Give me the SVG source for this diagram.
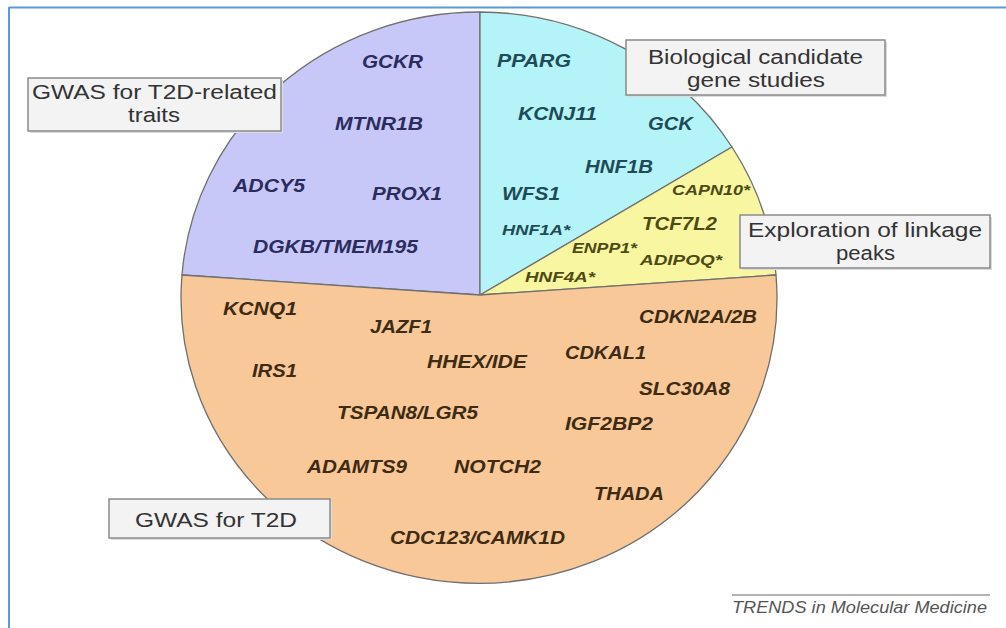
<svg xmlns="http://www.w3.org/2000/svg" width="1006" height="628" viewBox="0 0 1006 628">
<style>
.sector{stroke:#6f6f6f;stroke-width:1.3;stroke-linejoin:round}
.gene{font-family:"Liberation Sans",Arial,sans-serif;font-style:italic;font-weight:bold;font-size:18.5px}
.small{font-size:15px}
.pu{fill:#2b2b5e}
.cy{fill:#1f4a56}
.ye{fill:#4d4a14}
.or{fill:#3d2b14}
.box{fill:#f3f3f3;stroke:#8a8a8a;stroke-width:1.5}
.shadow{fill:#dcdcdc}
.lbl{font-family:"Liberation Sans",Arial,sans-serif;font-size:20px;fill:#333}
.credit{font-family:"Liberation Sans",Arial,sans-serif;font-style:italic;font-size:17px;fill:#555}
</style>
<rect width="1006" height="628" fill="#ffffff"/>
<g id="frame" stroke="#5b9bd5" stroke-width="2" fill="none">
<line x1="9" y1="7.5" x2="1006" y2="7.5"/>
<line x1="9" y1="7" x2="9" y2="628"/>
</g>
<g id="sector-gwas-traits">
<path class="sector" fill="#c8c8f8" d="M480,295 L480,12 A298,285 0 0,0 182,275 Z"/>
<text class="gene pu" x="362" y="68" textLength="61" lengthAdjust="spacingAndGlyphs">GCKR</text>
<text class="gene pu" x="335" y="130" textLength="88" lengthAdjust="spacingAndGlyphs">MTNR1B</text>
<text class="gene pu" x="372" y="200" textLength="70" lengthAdjust="spacingAndGlyphs">PROX1</text>
<text class="gene pu" x="233" y="192" textLength="72" lengthAdjust="spacingAndGlyphs">ADCY5</text>
<text class="gene pu" x="253" y="253" textLength="165" lengthAdjust="spacingAndGlyphs">DGKB/TMEM195</text>
</g>
<g id="sector-candidate">
<path class="sector" fill="#b4f4f8" d="M480,295 L480,12 A298,285 0 0,1 732,147 Z"/>
<text class="gene cy" x="497" y="67" textLength="74" lengthAdjust="spacingAndGlyphs">PPARG</text>
<text class="gene cy" x="518" y="120" textLength="79" lengthAdjust="spacingAndGlyphs">KCNJ11</text>
<text class="gene cy" x="648" y="130" textLength="45" lengthAdjust="spacingAndGlyphs">GCK</text>
<text class="gene cy" x="585" y="173" textLength="68" lengthAdjust="spacingAndGlyphs">HNF1B</text>
<text class="gene cy" x="502" y="200" textLength="58" lengthAdjust="spacingAndGlyphs">WFS1</text>
<text class="gene small cy" x="502" y="235" textLength="68" lengthAdjust="spacingAndGlyphs">HNF1A*</text>
</g>
<g id="sector-linkage">
<path class="sector" fill="#f8f6a0" d="M480,295 L732,147 A298,285 0 0,1 776,275 Z"/>
<text class="gene small ye" x="672" y="195" textLength="78" lengthAdjust="spacingAndGlyphs">CAPN10*</text>
<text class="gene ye" x="642" y="230" textLength="75" lengthAdjust="spacingAndGlyphs">TCF7L2</text>
<text class="gene small ye" x="572" y="253" textLength="65" lengthAdjust="spacingAndGlyphs">ENPP1*</text>
<text class="gene small ye" x="640" y="265" textLength="82" lengthAdjust="spacingAndGlyphs">ADIPOQ*</text>
<text class="gene small ye" x="525" y="282" textLength="70" lengthAdjust="spacingAndGlyphs">HNF4A*</text>
</g>
<g id="sector-gwas-t2d">
<path class="sector" fill="#f8c898" d="M480,295 L776,275 A298,285 0 1,1 182,275 Z"/>
<text class="gene or" x="223" y="315" textLength="74" lengthAdjust="spacingAndGlyphs">KCNQ1</text>
<text class="gene or" x="370" y="333" textLength="62" lengthAdjust="spacingAndGlyphs">JAZF1</text>
<text class="gene or" x="252" y="377" textLength="45" lengthAdjust="spacingAndGlyphs">IRS1</text>
<text class="gene or" x="427" y="368" textLength="100" lengthAdjust="spacingAndGlyphs">HHEX/IDE</text>
<text class="gene or" x="337" y="419" textLength="141" lengthAdjust="spacingAndGlyphs">TSPAN8/LGR5</text>
<text class="gene or" x="639" y="323" textLength="118" lengthAdjust="spacingAndGlyphs">CDKN2A/2B</text>
<text class="gene or" x="565" y="359" textLength="81" lengthAdjust="spacingAndGlyphs">CDKAL1</text>
<text class="gene or" x="639" y="395" textLength="91" lengthAdjust="spacingAndGlyphs">SLC30A8</text>
<text class="gene or" x="565" y="430" textLength="88" lengthAdjust="spacingAndGlyphs">IGF2BP2</text>
<text class="gene or" x="454" y="473" textLength="87" lengthAdjust="spacingAndGlyphs">NOTCH2</text>
<text class="gene or" x="307" y="473" textLength="100" lengthAdjust="spacingAndGlyphs">ADAMTS9</text>
<text class="gene or" x="594" y="500" textLength="70" lengthAdjust="spacingAndGlyphs">THADA</text>
<text class="gene or" x="390" y="544" textLength="175" lengthAdjust="spacingAndGlyphs">CDC123/CAMK1D</text>
</g>
<g id="connectors"></g>
<g id="label-gwas-traits">
<rect class="shadow" x="30" y="80" width="253" height="53"/>
<rect class="box" x="28" y="78" width="253" height="53"/>
<text class="lbl" x="32" y="99" textLength="245" lengthAdjust="spacingAndGlyphs">GWAS for T2D-related</text>
<text class="lbl" x="128" y="122" textLength="52" lengthAdjust="spacingAndGlyphs">traits</text>
</g>
<g id="label-candidate">
<rect class="shadow" x="628" y="42" width="259" height="55"/>
<rect class="box" x="626" y="40" width="259" height="55"/>
<text class="lbl" x="648" y="64" textLength="215" lengthAdjust="spacingAndGlyphs">Biological candidate</text>
<text class="lbl" x="687" y="87" textLength="138" lengthAdjust="spacingAndGlyphs">gene studies</text>
</g>
<g id="label-linkage">
<rect class="shadow" x="742" y="217" width="250" height="53"/>
<rect class="box" x="740" y="215" width="250" height="53"/>
<text class="lbl" x="748" y="237" textLength="234" lengthAdjust="spacingAndGlyphs">Exploration of linkage</text>
<text class="lbl" x="836" y="260" textLength="59" lengthAdjust="spacingAndGlyphs">peaks</text>
</g>
<g id="label-gwas-t2d">
<rect class="shadow" x="111" y="501" width="221" height="39"/>
<rect class="box" x="109" y="499" width="221" height="39"/>
<text class="lbl" x="135" y="527" textLength="162" lengthAdjust="spacingAndGlyphs">GWAS for T2D</text>
</g>
<g id="credit">
<line x1="732" y1="595" x2="990" y2="595" stroke="#9a9a9a" stroke-width="1.5"/>
<text class="credit" x="732" y="613" textLength="255" lengthAdjust="spacingAndGlyphs">TRENDS in Molecular Medicine</text>
</g>
</svg>
